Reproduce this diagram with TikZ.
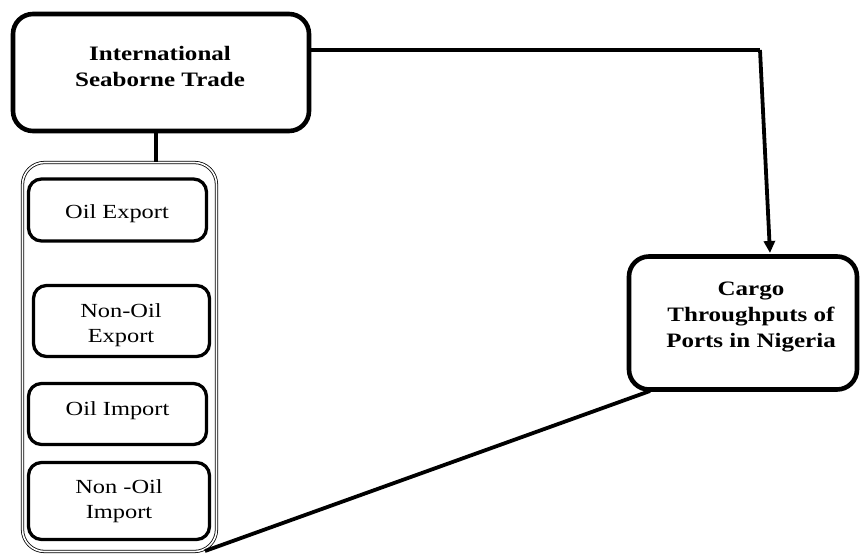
\documentclass[tikz,border=0pt]{standalone}
\usepackage{fontspec}
\setmainfont{Liberation Serif}[FakeStretch=1.22]
\usetikzlibrary{arrows.meta,calc}
\begin{document}
\begin{tikzpicture}[x=1pt,y=-1pt,
  bigbox/.style={draw,line width=4.6pt,rounded corners=20pt,inner sep=0pt},
  smallbox/.style={draw,line width=3.3pt,rounded corners=13pt,inner sep=0pt},
  group/.style={draw,line width=0.8pt,double,double distance=1.6pt,rounded corners=22pt,inner sep=0pt},
  boldtxt/.style={font=\fontsize{20.5}{26}\selectfont\bfseries,align=center,inner sep=0pt},
  txt/.style={font=\fontsize{20}{25}\selectfont,align=center,inner sep=0pt},
  conn/.style={line width=3.8pt},
]
\useasboundingbox (0,0) rectangle (862,554);
% boxes
\node[bigbox,minimum width=296pt,minimum height=117pt] (ist) at (161,72.5) {};
\node[group,minimum width=194pt,minimum height=389pt] (grp) at (119.5,357) {};
\node[smallbox,minimum width=178pt,minimum height=62pt] (oe) at (117.5,210) {};
\node[smallbox,minimum width=176pt,minimum height=71pt] (noe) at (121.5,321) {};
\node[smallbox,minimum width=178pt,minimum height=61pt] (oi) at (117.5,414) {};
\node[smallbox,minimum width=181pt,minimum height=77pt] (noi) at (119,501) {};
\node[bigbox,minimum width=228pt,minimum height=133pt] (cargo) at (743,323) {};
% texts
\node[boldtxt,anchor=base] (istt) at (160,86) {International\\Seaborne Trade};
\node[txt,anchor=base] (oet) at (117,218) {Oil Export};
\node[txt,anchor=base] (noet) at (121,342) {Non-Oil\\Export};
\node[txt,anchor=base] (oit) at (117.5,415) {Oil Import};
\node[txt,anchor=base] (noit) at (119,518) {Non -Oil\\Import};
\node[boldtxt,anchor=base] (cargot) at (751,347) {Cargo\\Throughputs of\\Ports in Nigeria};
% connectors
\coordinate (bend) at (760,50);
\draw[conn] (ist.east |- bend) -- (bend);
\draw[conn,-{Triangle[length=12pt,width=11pt]}] (bend) -- (770,253);
\draw[conn] (ist.south -| 156,0) -- (grp.north -| 156,0);
\draw[conn] (205,551) -- (650,391);
\end{tikzpicture}
\end{document}
